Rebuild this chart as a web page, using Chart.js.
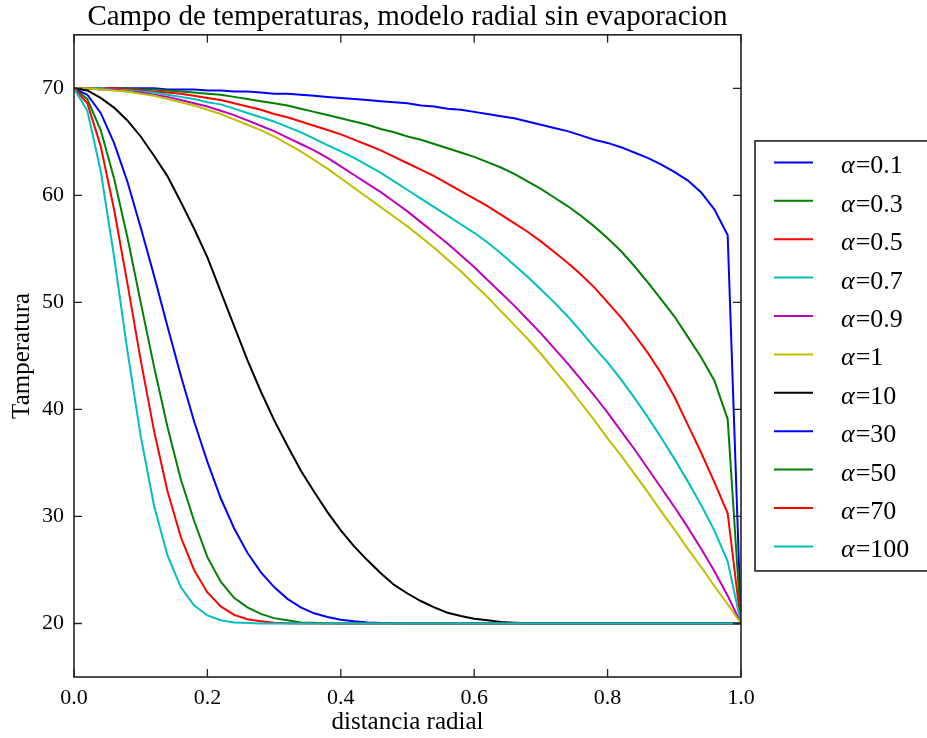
<!DOCTYPE html>
<html>
<head>
<meta charset="utf-8">
<script src="https://cdn.jsdelivr.net/npm/chart.js@4.4.0/dist/chart.umd.min.js"></script>
<style>
  html, body { margin: 0; padding: 0; background: #fff; }
</style>
</head>
<body>
<canvas id="grafico" width="927" height="738"></canvas>
<script>
var radios = [0, 0.02, 0.04, 0.06, 0.08, 0.1, 0.12, 0.14, 0.16, 0.18,
    0.2, 0.22, 0.24, 0.26, 0.28, 0.3, 0.32, 0.34, 0.36, 0.38,
    0.4, 0.42, 0.44, 0.46, 0.48, 0.5, 0.52, 0.54, 0.56, 0.58,
    0.6, 0.62, 0.64, 0.66, 0.68, 0.7, 0.72, 0.74, 0.76, 0.78,
    0.8, 0.82, 0.84, 0.86, 0.88, 0.9, 0.92, 0.94, 0.96, 0.98, 1.0];

var alfas = ['0.1', '0.3', '0.5', '0.7', '0.9', '1', '10', '30', '50', '70', '100'];

var tAlfa01 = [70.0, 70.0, 70.0, 70.0, 70.0, 70.0, 70.0, 69.9, 69.9, 69.9,
    69.8, 69.8, 69.7, 69.7, 69.6, 69.5, 69.5, 69.4, 69.3, 69.2,
    69.1, 69.0, 68.9, 68.8, 68.7, 68.6, 68.4, 68.3, 68.1, 68.0,
    67.8, 67.6, 67.4, 67.2, 66.9, 66.6, 66.3, 66.0, 65.6, 65.2,
    64.9, 64.5, 64.0, 63.5, 62.9, 62.2, 61.4, 60.3, 58.7, 56.3, 20.0];

var tAlfa03 = [70.0, 70.0, 70.0, 70.0, 70.0, 69.9, 69.9, 69.8, 69.7, 69.6,
    69.5, 69.4, 69.2, 69.0, 68.8, 68.6, 68.4, 68.1, 67.8, 67.5,
    67.2, 66.9, 66.6, 66.2, 65.9, 65.5, 65.2, 64.8, 64.4, 64.0,
    63.6, 63.1, 62.6, 62.0, 61.3, 60.6, 59.8, 59.0, 58.1, 57.1,
    56.0, 54.8, 53.4, 51.9, 50.3, 48.7, 46.8, 44.9, 42.7, 39.1, 20.0];

var tAlfa05 = [70.0, 70.0, 70.0, 70.0, 69.9, 69.8, 69.7, 69.6, 69.5, 69.3,
    69.1, 68.9, 68.6, 68.3, 68.0, 67.6, 67.3, 66.9, 66.5, 66.1,
    65.7, 65.2, 64.7, 64.2, 63.6, 63.0, 62.4, 61.8, 61.1, 60.4,
    59.7, 59.0, 58.2, 57.4, 56.6, 55.7, 54.7, 53.7, 52.6, 51.4,
    50.0, 48.6, 47.0, 45.3, 43.4, 41.2, 38.6, 36.0, 33.2, 30.3, 20.0];

var tAlfa07 = [70.0, 70.0, 70.0, 69.9, 69.8, 69.7, 69.6, 69.4, 69.2, 69.0,
    68.7, 68.5, 68.1, 67.7, 67.3, 66.9, 66.4, 65.9, 65.3, 64.7,
    64.1, 63.5, 62.8, 62.1, 61.3, 60.5, 59.7, 58.9, 58.1, 57.3,
    56.5, 55.6, 54.6, 53.5, 52.4, 51.2, 50.0, 48.7, 47.3, 45.8,
    44.4, 42.8, 41.1, 39.3, 37.4, 35.4, 33.3, 31.1, 28.7, 25.8, 20.0];

var tAlfa09 = [70.0, 70.0, 69.9, 69.9, 69.7, 69.6, 69.4, 69.2, 68.9, 68.6,
    68.3, 67.9, 67.5, 67.0, 66.5, 66.0, 65.4, 64.8, 64.2, 63.5,
    62.7, 61.9, 61.1, 60.3, 59.4, 58.5, 57.5, 56.5, 55.5, 54.4,
    53.3, 52.1, 50.9, 49.7, 48.4, 47.1, 45.7, 44.3, 42.8, 41.3,
    39.7, 38.0, 36.3, 34.5, 32.7, 30.9, 29.0, 27.0, 24.9, 22.6, 20.0];

var tAlfa1 = [70.0, 70.0, 69.9, 69.8, 69.7, 69.5, 69.3, 69.0, 68.7, 68.4,
    68.0, 67.6, 67.1, 66.6, 66.1, 65.5, 64.8, 64.1, 63.3, 62.5,
    61.6, 60.7, 59.8, 58.9, 58.0, 57.1, 56.1, 55.1, 54.0, 52.9,
    51.7, 50.5, 49.2, 47.9, 46.6, 45.2, 43.7, 42.2, 40.6, 39.0,
    37.3, 35.7, 34.0, 32.3, 30.5, 28.8, 27.0, 25.3, 23.5, 21.8, 20.0];

var tAlfa10 = [70.0, 69.8, 69.1, 68.2, 67.0, 65.5, 63.7, 61.8, 59.4, 56.9,
    54.2, 51.0, 47.8, 44.6, 41.7, 39.0, 36.6, 34.3, 32.3, 30.4,
    28.7, 27.2, 25.9, 24.7, 23.6, 22.8, 22.1, 21.5, 21.0, 20.7,
    20.45, 20.3, 20.15, 20.08, 20.03, 20.0, 20.0, 20.0, 20.0, 20.0,
    20.0, 20.0, 20.0, 20.0, 20.0, 20.0, 20.0, 20.0, 20.0, 20.0, 20.0];

var tAlfa30 = [70.0, 69.4, 67.7, 64.9, 61.3, 57.0, 52.5, 47.8, 43.2, 38.9,
    35.1, 31.7, 28.9, 26.6, 24.8, 23.4, 22.3, 21.5, 20.95, 20.6,
    20.35, 20.2, 20.1, 20.05, 20.02, 20.0, 20.0, 20.0, 20.0, 20.0,
    20.0, 20.0, 20.0, 20.0, 20.0, 20.0, 20.0, 20.0, 20.0, 20.0,
    20.0, 20.0, 20.0, 20.0, 20.0, 20.0, 20.0, 20.0, 20.0, 20.0, 20.0];

var tAlfa50 = [70.0, 69.0, 66.1, 61.6, 56.1, 50.0, 44.0, 38.4, 33.5, 29.6,
    26.2, 23.9, 22.4, 21.5, 20.9, 20.5, 20.3, 20.1, 20.07, 20.03,
    20.0, 20.0, 20.0, 20.0, 20.0, 20.0, 20.0, 20.0, 20.0, 20.0,
    20.0, 20.0, 20.0, 20.0, 20.0, 20.0, 20.0, 20.0, 20.0, 20.0,
    20.0, 20.0, 20.0, 20.0, 20.0, 20.0, 20.0, 20.0, 20.0, 20.0, 20.0];

var tAlfa70 = [70.0, 68.6, 64.6, 58.7, 51.8, 44.6, 38.0, 32.4, 28.1, 25.0,
    22.9, 21.6, 20.8, 20.4, 20.2, 20.08, 20.03, 20.0, 20.0, 20.0,
    20.0, 20.0, 20.0, 20.0, 20.0, 20.0, 20.0, 20.0, 20.0, 20.0,
    20.0, 20.0, 20.0, 20.0, 20.0, 20.0, 20.0, 20.0, 20.0, 20.0,
    20.0, 20.0, 20.0, 20.0, 20.0, 20.0, 20.0, 20.0, 20.0, 20.0, 20.0];

var tAlfa100 = [70.0, 67.9, 62.3, 54.3, 45.5, 37.5, 31.0, 26.4, 23.4, 21.7,
    20.75, 20.3, 20.1, 20.04, 20.0, 20.0, 20.0, 20.0, 20.0, 20.0,
    20.0, 20.0, 20.0, 20.0, 20.0, 20.0, 20.0, 20.0, 20.0, 20.0,
    20.0, 20.0, 20.0, 20.0, 20.0, 20.0, 20.0, 20.0, 20.0, 20.0,
    20.0, 20.0, 20.0, 20.0, 20.0, 20.0, 20.0, 20.0, 20.0, 20.0, 20.0];

var ticksX = [0, 0.2, 0.4, 0.6, 0.8, 1.0];
var ticksY = [20, 30, 40, 50, 60, 70];

var series = [tAlfa01, tAlfa03, tAlfa05, tAlfa07, tAlfa09, tAlfa1,
    tAlfa10, tAlfa30, tAlfa50, tAlfa70, tAlfa100];

// colores clasicos de matplotlib (b, g, r, c, m, y, k)
var colores = ['#0000ff', '#008000', '#ff0000', '#00bfbf', '#bf00bf', '#bfbf00',
    '#000000', '#0000ff', '#008000', '#ff0000', '#00bfbf'];

var fuente = "'Liberation Serif', 'Times New Roman', serif";
Chart.defaults.font.family = fuente;
Chart.defaults.color = '#000';

var datasets = series.map(function (s, i) {
    return {
        label: '\u03b1=' + alfas[i],
        data: s,
        borderColor: colores[i],
        backgroundColor: colores[i],
        borderWidth: 2,
        pointRadius: 0,
        tension: 0,
        fill: false,
        order: series.length - 1 - i
    };
});

// marco, ticks hacia dentro y leyenda con recuadro
var marco = {
    id: 'marco',
    afterDatasetsDraw: function (chart) {
        var ctx = chart.ctx, a = chart.chartArea;
        var sx = chart.scales.x, sy = chart.scales.y;
        ctx.save();
        ctx.strokeStyle = '#222';
        ctx.lineWidth = 1.3;
        ctx.beginPath();
        sx.ticks.forEach(function (t) {
            var px = sx.getPixelForValue(t.value);
            ctx.moveTo(px, a.bottom); ctx.lineTo(px, a.bottom - 8);
            ctx.moveTo(px, a.top); ctx.lineTo(px, a.top + 8);
        });
        sy.ticks.forEach(function (t) {
            var py = sy.getPixelForValue(t.value);
            ctx.moveTo(a.left, py); ctx.lineTo(a.left + 8, py);
            ctx.moveTo(a.right, py); ctx.lineTo(a.right - 8, py);
        });
        ctx.stroke();
        ctx.lineWidth = 1.6;
        ctx.strokeRect(a.left, a.top, a.right - a.left, a.bottom - a.top);
        ctx.restore();
    },
    afterDraw: function (chart) {
        var ctx = chart.ctx, a = chart.chartArea;
        var alto = 430;
        var lx = a.right + 14;
        var ly = (a.top + a.bottom) / 2 - alto / 2;
        var paso = 38.4;
        ctx.save();
        ctx.strokeStyle = '#222';
        ctx.lineWidth = 1.6;
        ctx.strokeRect(lx, ly, chart.width - lx + 20, alto);
        chart.data.datasets.forEach(function (ds, i) {
            var y = ly + 21.5 + i * paso;
            ctx.strokeStyle = ds.borderColor;
            ctx.lineWidth = 2;
            ctx.beginPath();
            ctx.moveTo(lx + 19, y);
            ctx.lineTo(lx + 58, y);
            ctx.stroke();
            ctx.fillStyle = '#000';
            ctx.textBaseline = 'alphabetic';
            ctx.textAlign = 'left';
            ctx.font = 'italic 26px ' + fuente;
            var tx = lx + 86;
            ctx.fillText(ds.label.charAt(0), tx, y + 11);
            tx += ctx.measureText(ds.label.charAt(0)).width + 1;
            ctx.font = '26px ' + fuente;
            ctx.fillText(ds.label.slice(1), tx, y + 11);
        });
        ctx.restore();
    }
};

var ctx = document.getElementById('grafico').getContext('2d');
var grafico = new Chart(ctx, {
    type: 'line',
    data: { labels: radios, datasets: datasets },
    plugins: [marco],
    options: {
        responsive: false,
        animation: false,
        layout: { padding: { right: 186 } },
        plugins: {
            legend: { display: false },
            tooltip: { enabled: false },
            title: {
                display: true,
                text: 'Campo de temperaturas, modelo radial sin evaporacion',
                fullSize: false,
                color: '#000',
                font: { size: 29, weight: 'normal' },
                padding: { top: 0, bottom: 0 }
            }
        },
        scales: {
            x: {
                type: 'linear',
                min: 0,
                max: 1,
                afterBuildTicks: function (s) {
                    s.ticks = ticksX.map(function (v) { return { value: v }; });
                },
                afterFit: function (s) { s.height = 61; },
                grid: { display: false, drawTicks: false },
                border: { display: false },
                ticks: {
                    color: '#000',
                    font: { size: 22 },
                    padding: 8,
                    maxRotation: 0,
                    callback: function (v) { return Number(v).toFixed(1); }
                },
                title: {
                    display: true,
                    text: 'distancia radial',
                    color: '#000',
                    font: { size: 25 },
                    padding: { top: 0, bottom: 1 }
                }
            },
            y: {
                min: 15,
                max: 75,
                afterBuildTicks: function (s) {
                    s.ticks = ticksY.map(function (v) { return { value: v }; });
                },
                afterFit: function (s) { s.width = 74; },
                grid: { display: false, drawTicks: false },
                border: { display: false },
                ticks: {
                    color: '#000',
                    font: { size: 22 },
                    padding: 10,
                    callback: function (v) { return String(v); }
                },
                title: {
                    display: true,
                    text: 'Tamperatura',
                    color: '#000',
                    font: { size: 25 },
                    padding: { top: 7, bottom: 0 }
                }
            }
        }
    }
});
</script>
</body>
</html>
